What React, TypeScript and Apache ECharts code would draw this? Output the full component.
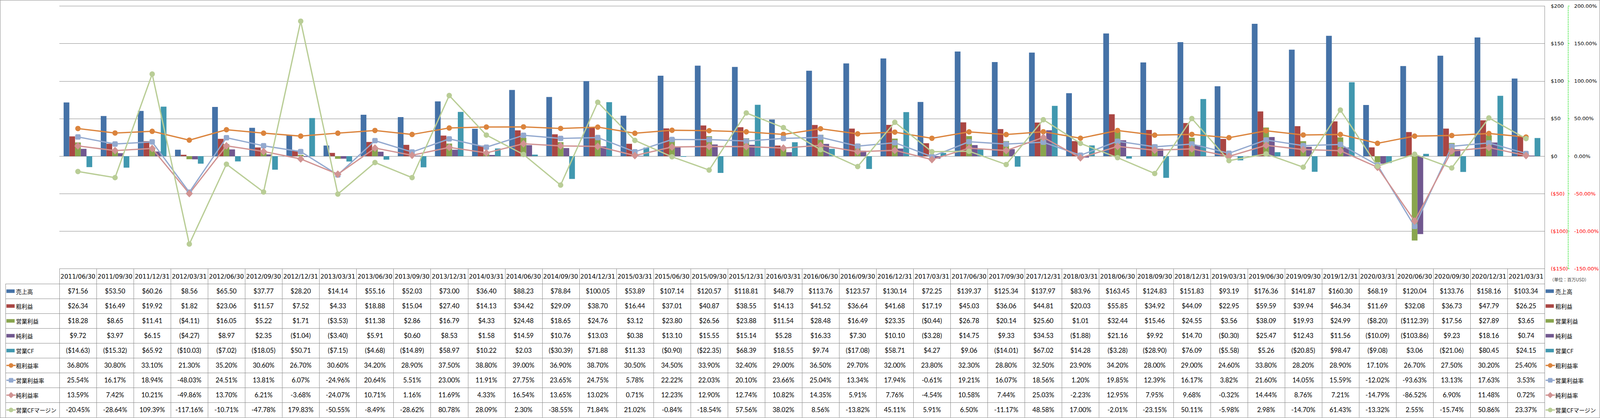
import React, { useEffect, useRef } from "react";
import * as echarts from "echarts";

const REF_W = 6227;
const REF_H = 1071;

const categories = [
  "2011/06/30", "2011/09/30", "2011/12/31", "2012/03/31", "2012/06/30", "2012/09/30", "2012/12/31", "2013/03/31",
  "2013/06/30", "2013/09/30", "2013/12/31", "2014/03/31", "2014/06/30", "2014/09/30", "2014/12/31", "2015/03/31",
  "2015/06/30", "2015/09/30", "2015/12/31", "2016/03/31", "2016/06/30", "2016/09/30", "2016/12/31", "2017/03/31",
  "2017/06/30", "2017/09/30", "2017/12/31", "2018/03/31", "2018/06/30", "2018/09/30", "2018/12/31", "2019/03/31",
  "2019/06/30", "2019/09/30", "2019/12/31", "2020/03/31", "2020/06/30", "2020/09/30", "2020/12/31", "2021/03/31",
];

const sales = [
  71.56, 53.5, 60.26, 8.56, 65.5, 37.77, 28.2, 14.14, 55.16, 52.03, 73.0, 36.4, 88.23, 78.84, 100.05, 53.89,
  107.14, 120.57, 118.81, 48.79, 113.76, 123.57, 130.14, 72.25, 139.37, 125.34, 137.97, 83.96, 163.45, 124.83,
  151.83, 93.19, 176.36, 141.87, 160.3, 68.19, 120.04, 133.76, 158.16, 103.34,
];
const grossProfit = [
  26.34, 16.49, 19.92, 1.82, 23.06, 11.57, 7.52, 4.33, 18.88, 15.04, 27.4, 14.13, 34.42, 29.09, 38.7, 16.44,
  37.01, 40.87, 38.55, 14.13, 41.52, 36.64, 41.68, 17.19, 45.03, 36.06, 44.81, 20.03, 55.85, 34.92,
  44.09, 22.95, 59.59, 39.94, 46.34, 11.69, 32.08, 36.73, 47.79, 26.25,
];
const operatingProfit = [
  18.28, 8.65, 11.41, -4.11, 16.05, 5.22, 1.71, -3.53, 11.38, 2.86, 16.79, 4.33, 24.48, 18.65, 24.76, 3.12,
  23.8, 26.56, 23.88, 11.54, 28.48, 16.49, 23.35, -0.44, 26.78, 20.14, 25.6, 1.01, 32.44, 15.46,
  24.55, 3.56, 38.09, 19.93, 24.99, -8.2, -112.39, 17.56, 27.89, 3.65,
];
const netProfit = [
  9.72, 3.97, 6.15, -4.27, 8.97, 2.35, -1.04, -3.4, 5.91, 0.6, 8.53, 1.58, 14.59, 10.76, 13.03, 0.38,
  13.1, 15.55, 15.14, 5.28, 16.33, 7.3, 10.1, -3.28, 14.75, 9.33, 34.53, -1.88, 21.16, 9.92,
  14.7, -0.3, 25.47, 12.43, 11.56, -10.09, -103.86, 9.23, 18.16, 0.74,
];
const operatingCF = [
  -14.63, -15.32, 65.92, -10.03, -7.02, -18.05, 50.71, -7.15, -4.68, -14.89, 58.97, 10.22, 2.03, -30.39, 71.88, 11.33,
  -0.9, -22.35, 68.39, 18.55, 9.74, -17.08, 58.71, 4.27, 9.06, -14.01, 67.02, 14.28, -3.28, -28.9,
  76.09, -5.58, 5.26, -20.85, 98.47, -9.08, 3.06, -21.06, 80.45, 24.15,
];
const grossMargin = [
  36.8, 30.8, 33.1, 21.3, 35.2, 30.6, 26.7, 30.6, 34.2, 28.9, 37.5, 38.8, 39.0, 36.9, 38.7, 30.5,
  34.5, 33.9, 32.4, 29.0, 36.5, 29.7, 32.0, 23.8, 32.3, 28.8, 32.5, 23.9, 34.2, 28.0,
  29.0, 24.6, 33.8, 28.2, 28.9, 17.1, 26.7, 27.5, 30.2, 25.4,
];
const operatingMargin = [
  25.54, 16.17, 18.94, -48.03, 24.51, 13.81, 6.07, -24.96, 20.64, 5.51, 23.0, 11.91, 27.75, 23.65, 24.75, 5.78,
  22.22, 22.03, 20.1, 23.66, 25.04, 13.34, 17.94, -0.61, 19.21, 16.07, 18.56, 1.2, 19.85, 12.39,
  16.17, 3.82, 21.6, 14.05, 15.59, -12.02, -93.63, 13.13, 17.63, 3.53,
];
const netMargin = [
  13.59, 7.42, 10.21, -49.86, 13.7, 6.21, -3.68, -24.07, 10.71, 1.16, 11.69, 4.33, 16.54, 13.65, 13.02, 0.71,
  12.23, 12.9, 12.74, 10.82, 14.35, 5.91, 7.76, -4.54, 10.58, 7.44, 25.03, -2.23, 12.95, 7.95,
  9.68, -0.32, 14.44, 8.76, 7.21, -14.79, -86.52, 6.9, 11.48, 0.72,
];
const ocfMargin = [
  -20.45, -28.64, 109.39, -117.16, -10.71, -47.78, 179.83, -50.55, -8.49, -28.62, 80.78, 28.09, 2.3, -38.55, 71.84, 21.02,
  -0.84, -18.54, 57.56, 38.02, 8.56, -13.82, 45.11, 5.91, 6.5, -11.17, 48.58, 17.0, -2.01, -23.15,
  50.11, -5.98, 2.98, -14.7, 61.43, -13.32, 2.55, -15.74, 50.86, 23.37,
];

const axisTicks = [-150, -100, -50, 0, 50, 100, 150, 200];
const unitLabel = "（単位：百万USD）";

const barSeriesDefs = [
  { name: "売上高", data: sales, color: "#4572A7" },
  { name: "粗利益", data: grossProfit, color: "#AA4643" },
  { name: "営業利益", data: operatingProfit, color: "#89A54E" },
  { name: "純利益", data: netProfit, color: "#71588F" },
  { name: "営業CF", data: operatingCF, color: "#4198AF" },
];
const lineSeriesDefs = [
  { name: "粗利益率", data: grossMargin, color: "#DB843D", symbol: "circle" },
  { name: "営業利益率", data: operatingMargin, color: "#93A9CF", symbol: "square" },
  { name: "純利益率", data: netMargin, color: "#D19392", symbol: "diamond" },
  { name: "営業CFマージン", data: ocfMargin, color: "#B9CD96", symbol: "circle" },
];

const GRID_COLOR = "#868686";

const fmtUsd = (v: number) => (v < 0 ? `($${(-v).toFixed(2)})` : `$${v.toFixed(2)}`);
const fmtPct = (v: number) => `${v.toFixed(2)}%`;

export default function App() {
  const ref = useRef<HTMLDivElement>(null);

  useEffect(() => {
    const el = ref.current;
    if (!el) return;
    const W = el.clientWidth || window.innerWidth || REF_W;
    const H = el.clientHeight || window.innerHeight || REF_H;
    const sx = W / REF_W;
    const sy = H / REF_H;
    const fs = Math.min(sx, sy);
    const ft = Math.min(sy, sx * 1.2); // table cell text may grow a little beyond the x-scale
    const X = (v: number) => v * sx;
    const Y = (v: number) => v * sy;
    const F = (v: number) => Math.max(6, v * fs);
    const FT = (v: number) => Math.max(6, v * ft);

    const PLOT_L = X(231);
    const PLOT_R = X(6013);
    const PLOT_T = Y(15.5);
    const PLOT_B = Y(688.5);
    const HEAD_B = Y(727);
    const TABLE_B = Y(1069.5);
    const LABEL_L = X(21);

    const chart = echarts.init(el, null, { renderer: "svg", width: W, height: H });

    const series: any[] = [];
    barSeriesDefs.forEach((s) => {
      series.push({
        name: s.name,
        type: "bar",
        data: s.data,
        xAxisIndex: 0,
        yAxisIndex: 0,
        barGap: "0%",
        barCategoryGap: "23%",
        itemStyle: { color: s.color },
        z: 2,
      });
    });
    lineSeriesDefs.forEach((s) => {
      series.push({
        name: s.name,
        type: "line",
        data: s.data,
        xAxisIndex: 0,
        yAxisIndex: 1,
        symbol: s.symbol === "square" ? "roundRect" : s.symbol,
        symbolSize: s.symbol === "diamond" ? [28 * fs, 30 * fs] : 21 * fs,
        showAllSymbol: true,
        lineStyle: { color: s.color, width: Math.max(1.5, 5 * fs) },
        itemStyle: { color: s.color },
        z: 3,
      });
    });

    const labelColor = (v: any) => (Number(v) < 0 ? "#FF0000" : "#000000");

    chart.setOption({
      animation: false,
      backgroundColor: "#FFFFFF",
      grid: { left: PLOT_L, right: W - PLOT_R, top: PLOT_T, bottom: H - PLOT_B, containLabel: false },
      xAxis: {
        type: "category",
        data: categories,
        axisLine: { show: false },
        axisTick: { show: false },
        axisLabel: { show: false },
        splitLine: { show: false },
      },
      yAxis: [
        {
          type: "value",
          position: "right",
          min: axisTicks[0],
          max: axisTicks[axisTicks.length - 1],
          interval: 50,
          axisLine: { show: true, lineStyle: { color: GRID_COLOR, width: 1 } },
          axisTick: { show: false },
          splitLine: { show: true, lineStyle: { color: GRID_COLOR, width: 1 } },
          axisLabel: {
            margin: X(24),
            fontFamily: "DejaVu Sans",
            fontSize: F(20),
            color: labelColor,
            formatter: (v: number) => (v < 0 ? `($${-v})` : `$${v}`),
          },
        },
        {
          type: "value",
          position: "right",
          offset: X(91),
          min: axisTicks[0],
          max: axisTicks[axisTicks.length - 1],
          interval: 50,
          axisLine: { show: true, lineStyle: { color: "#00DD00", width: 1, type: "dashed" } },
          axisTick: { show: true, length: X(9), lineStyle: { color: "#00DD00", width: 1, type: "dashed" } },
          splitLine: { show: false },
          axisLabel: {
            margin: X(24),
            fontFamily: "DejaVu Sans",
            fontSize: F(20),
            color: labelColor,
            formatter: (v: number) => `${v.toFixed(2)}%`,
          },
        },
      ],
      series,
    });

    // Data table built from the same arrays, placed with the chart's own x scale
    const centers = categories.map((_, i) => chart.convertToPixel({ xAxisIndex: 0 }, i) as number);
    const band = centers.length > 1 ? centers[1] - centers[0] : (PLOT_R - PLOT_L) / categories.length;
    const left = centers[0] - band / 2;
    const right = centers[centers.length - 1] + band / 2;

    const tableRows = [
      ...barSeriesDefs.map((s) => ({ name: s.name, values: s.data, color: s.color, kind: "bar", symbol: "", fmt: fmtUsd })),
      ...lineSeriesDefs.map((s) => ({ name: s.name, values: s.data, color: s.color, kind: "line", symbol: s.symbol, fmt: fmtPct })),
    ];
    const rowH = (TABLE_B - HEAD_B) / tableRows.length;

    const els: any[] = [];
    const hline = (x1: number, x2: number, y: number) =>
      els.push({ type: "line", silent: true, shape: { x1, y1: y, x2, y2: y }, style: { stroke: GRID_COLOR, lineWidth: 1 } });
    const vline = (x: number, y1: number, y2: number) =>
      els.push({ type: "line", silent: true, shape: { x1: x, y1, x2: x, y2 }, style: { stroke: GRID_COLOR, lineWidth: 1 } });

    const legendKey = (kind: string, color: string, symbol: string, x0: number, cy: number) => {
      if (kind === "bar") {
        els.push({ type: "rect", silent: true, shape: { x: x0, y: cy - Y(4.5), width: X(32), height: Y(9) }, style: { fill: color } });
        return;
      }
      const cx = x0 + X(18);
      const r = 9 * fs;
      els.push({ type: "line", silent: true, shape: { x1: x0, y1: cy, x2: x0 + X(36), y2: cy }, style: { stroke: color, lineWidth: Math.max(1.5, 5 * fs) } });
      if (symbol === "circle") {
        els.push({ type: "circle", silent: true, shape: { cx, cy, r }, style: { fill: color } });
      } else if (symbol === "square") {
        els.push({ type: "rect", silent: true, shape: { x: cx - r, y: cy - r, width: 2 * r, height: 2 * r, r: 3 * fs }, style: { fill: color } });
      } else {
        const d = 12 * fs;
        els.push({
          type: "polygon",
          silent: true,
          shape: { points: [[cx, cy - d], [cx + d, cy], [cx, cy + d], [cx - d, cy]] },
          style: { fill: color },
        });
      }
    };

    // outer border
    els.push({
      type: "rect",
      silent: true,
      shape: { x: 0.5, y: 0.5, width: W - 1, height: H - 1 },
      style: { fill: "none", stroke: GRID_COLOR, lineWidth: 1 },
    });

    // table grid
    hline(left, right, PLOT_B);
    for (let i = 0; i <= categories.length; i++) {
      const x = Math.round(left + i * band) + 0.5;
      vline(x, PLOT_B, TABLE_B);
    }
    vline(Math.round(LABEL_L) + 0.5, HEAD_B, TABLE_B);
    hline(LABEL_L, right, Math.round(HEAD_B) + 0.5);
    for (let r = 1; r <= tableRows.length; r++) {
      hline(LABEL_L, right, Math.round(HEAD_B + r * rowH) + 0.5);
    }

    // header (dates): keep them inside the column
    const dateSize = Math.min(FT(20), (band * 0.94) / 5.76);
    categories.forEach((c, i) => {
      els.push({
        type: "text",
        silent: true,
        x: centers[i],
        y: (PLOT_B + HEAD_B) / 2 + 1,
        style: { text: c, fill: "#000", fontFamily: "DejaVu Sans", fontSize: dateSize, align: "center", verticalAlign: "middle" },
      });
    });

    tableRows.forEach((row, r) => {
      const cy = HEAD_B + r * rowH + rowH / 2;
      legendKey(row.kind, row.color, row.symbol, LABEL_L + X(4), cy);
      els.push({
        type: "text",
        silent: true,
        x: LABEL_L + X(41),
        y: cy,
        style: { text: row.name, fill: "#000", fontFamily: "Noto Sans CJK JP", fontSize: F(22), align: "left", verticalAlign: "middle" },
      });
      row.values.forEach((v, i) => {
        els.push({
          type: "text",
          silent: true,
          x: centers[i],
          y: cy,
          style: { text: row.fmt(v), fill: "#000", fontFamily: "Lato", fontSize: FT(21), align: "center", verticalAlign: "middle" },
        });
      });
      legendKey(row.kind, row.color, row.symbol, right + X(4), cy);
      els.push({
        type: "text",
        silent: true,
        x: right + X(42),
        y: cy,
        style: { text: row.name, fill: "#000", fontFamily: "Noto Sans CJK JP", fontSize: F(22), align: "left", verticalAlign: "middle" },
      });
    });

    els.push({
      type: "text",
      silent: true,
      x: right + X(20),
      y: Y(716),
      style: { text: unitLabel, fill: "#404040", fontFamily: "Noto Sans CJK JP", fontSize: F(17), align: "left", verticalAlign: "middle" },
    });

    chart.setOption({ graphic: { elements: els } });

    return () => chart.dispose();
  }, []);

  return <div ref={ref} style={{ position: "fixed", left: 0, top: 0, width: "100vw", height: "100vh" }} />;
}
